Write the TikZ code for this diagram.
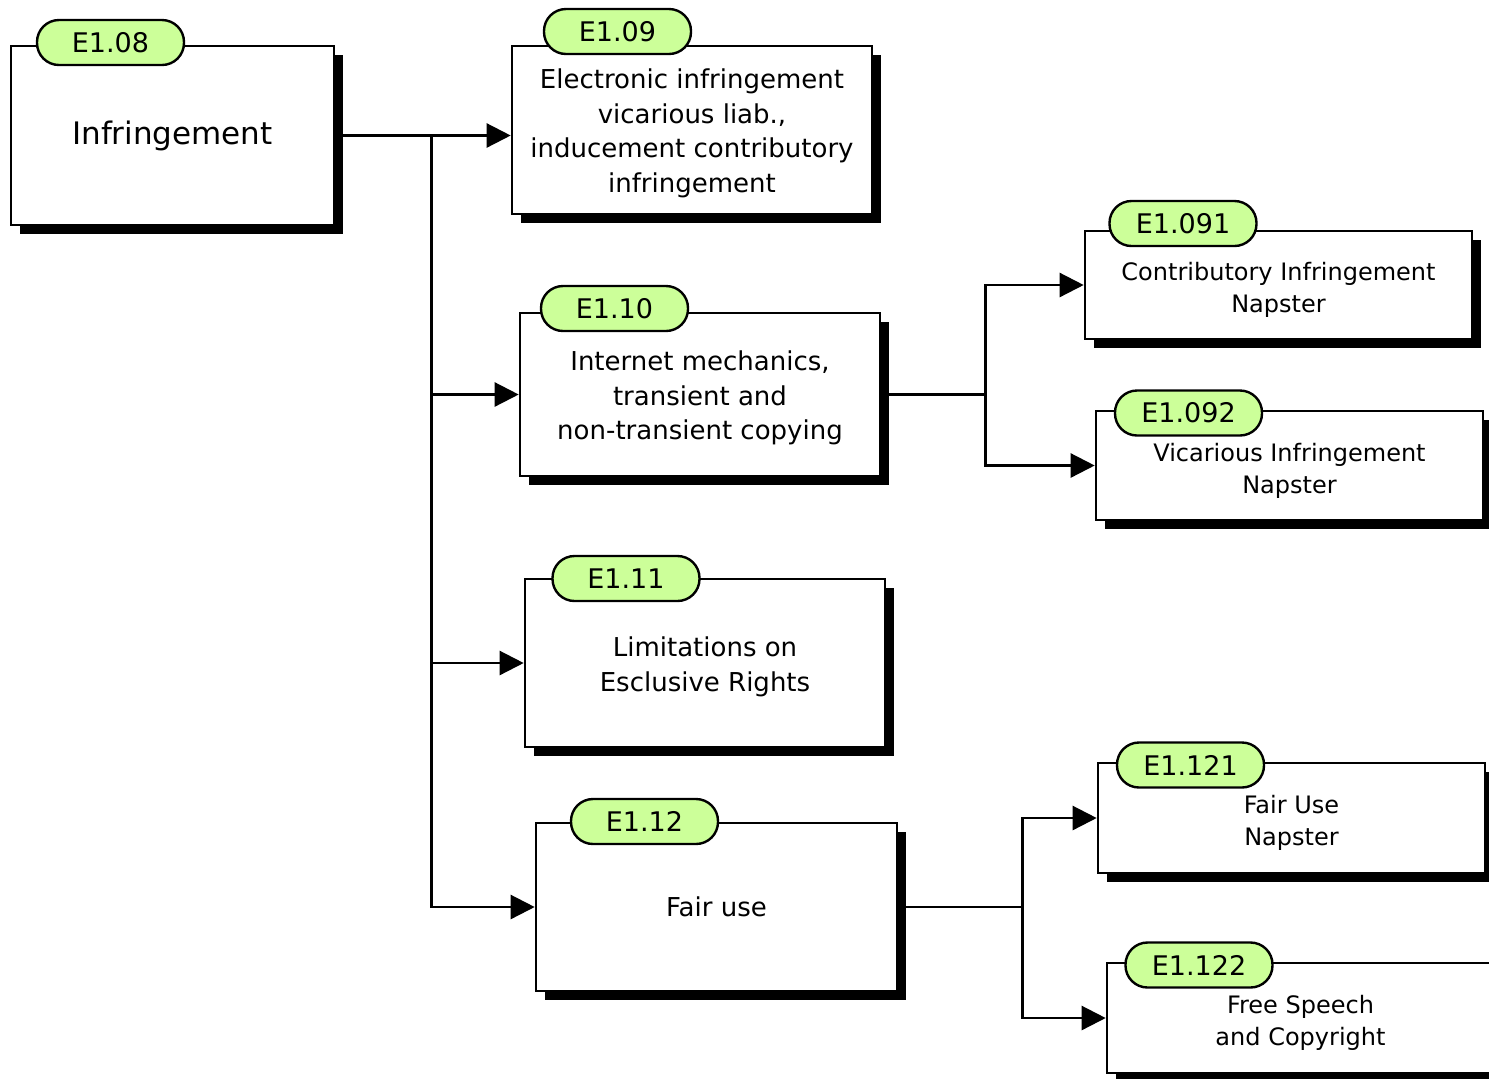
\documentclass[tikz,border=0pt]{standalone}
\usepackage{fontspec}
\setmainfont{DejaVu Sans}
\usetikzlibrary{arrows.meta,shadows}
\definecolor{badgegreen}{RGB}{204,255,153}
\newcommand{\topgap}[1]{\rule{0pt}{#1}}

\begin{document}
\begin{tikzpicture}[x=0.5pt,y=0.5pt]
            \tikzstyle{every node}+=[inner sep=0pt]
            \tikzstyle{box}=[draw=black, line width=1.3pt, fill=white, align=center, drop shadow={shadow xshift=4.5pt, shadow yshift=-4.5pt, fill=black, opacity=1}]
            \tikzstyle{bigtext}=[font=\fontsize{15.5}{19}\selectfont]
            \tikzstyle{midtext}=[font=\fontsize{13}{17.25}\selectfont]
            \tikzstyle{smalltext}=[font=\fontsize{12}{16}\selectfont]
            \tikzstyle{tag}=[draw=black, line width=1.2pt, fill=badgegreen, rounded corners=11pt, minimum width=73.5pt, minimum height=22.5pt, font=\fontsize{13.5}{16}\selectfont]
            \tikzstyle{link}=[black, line width=1.2pt]
            \tikzstyle{arr}=[link, -{Triangle[length=12pt,width=12pt]}]
            \useasboundingbox (0,0) rectangle (1489,-1078);
            \clip (0,0) rectangle (1489,-1078);
            \node [box, bigtext, minimum width=161.5pt, minimum height=89.5pt] (e108) at (172.5,-135.5) {Infringement};
            \node [box, midtext, minimum width=180pt, minimum height=84pt] (e109) at (692,-130) {\topgap{13pt}Electronic infringement\\vicarious liab.,\\inducement contributory\\infringement};
            \node [box, midtext, minimum width=180pt, minimum height=81.5pt] (e110) at (700,-394.5) {\topgap{13.5pt}Internet mechanics,\\transient and\\non-transient copying};
            \node [box, midtext, minimum width=180pt, minimum height=84pt] (e111) at (705,-663) {\topgap{13.5pt}Limitations on\\Esclusive Rights};
            \node [box, midtext, minimum width=180.5pt, minimum height=84pt] (e112) at (716.5,-907) {Fair use};
            \node [box, smalltext, minimum width=193.5pt, minimum height=54pt] (e1091) at (1278.5,-285) {\topgap{14pt}Contributory Infringement\\Napster};
            \node [box, smalltext, minimum width=193.5pt, minimum height=54.5pt] (e1092) at (1289.5,-465.5) {\topgap{14pt}Vicarious Infringement\\Napster};
            \node [box, smalltext, minimum width=193.5pt, minimum height=55pt] (e1121) at (1291.5,-818) {\topgap{14pt}Fair Use\\Napster};
            \node [box, smalltext, minimum width=193.5pt, minimum height=55pt] (e1122) at (1300.5,-1018) {\topgap{14pt}Free Speech\\and Copyright};
            \coordinate (j0) at ([xshift=48pt]e108.east);
            \draw [link] (e108.east) -- (j0);
            \draw [arr] (j0) -- (e109.west |- j0);
            \draw [arr] (j0) |- (e110.west);
            \draw [arr] (j0) |- (e111.west);
            \draw [arr] (j0) |- (e112.west);
            \coordinate (j1) at ([xshift=52pt]e110.east);
            \draw [link] (e110.east) -- (j1);
            \draw [arr] (j1) |- (e1091.west);
            \draw [arr] (j1) |- (e1092.west);
            \coordinate (j2) at ([xshift=62pt]e112.east);
            \draw [link] (e112.east) -- (j2);
            \draw [arr] (j2) |- (e1121.west);
            \draw [arr] (j2) |- (e1122.west);
            \node [tag] (b108) at (110.5,-42.5) {E1.08};
            \node [tag] (b109) at (617.5,-31.5) {E1.09};
            \node [tag] (b110) at (614.5,-308.5) {E1.10};
            \node [tag] (b1091) at (1183,-223.5) {E1.091};
            \node [tag] (b1092) at (1188.5,-413) {E1.092};
            \node [tag] (b111) at (626,-578.5) {E1.11};
            \node [tag] (b112) at (644.5,-821.5) {E1.12};
            \node [tag] (b1121) at (1190.5,-765) {E1.121};
            \node [tag] (b1122) at (1199,-965) {E1.122};
        \end{tikzpicture}
\end{document}
